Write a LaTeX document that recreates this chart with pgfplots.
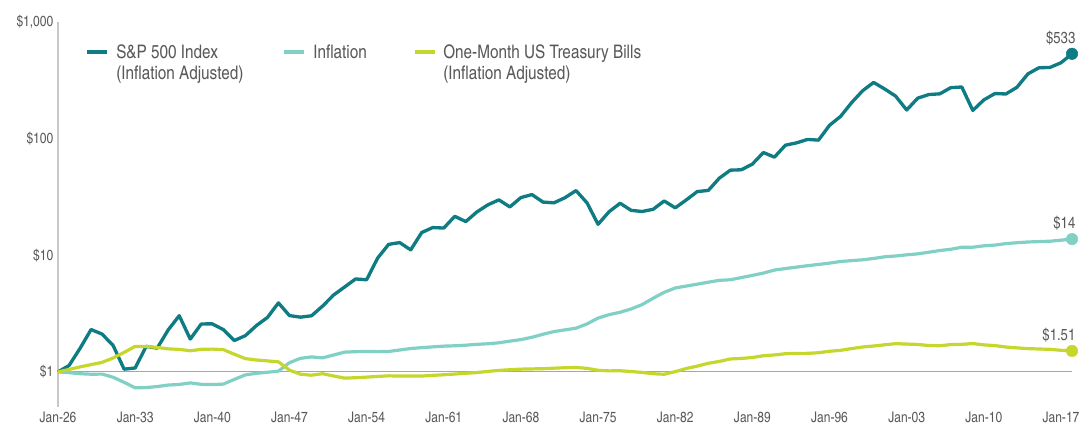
\documentclass[border=0pt]{standalone}
\usepackage{fontspec}
\setmainfont{TeX Gyre Heros Cn}
\usepackage{pgfplots}
\usepackage{pgfplotstable}
\pgfplotsset{compat=1.18}
\definecolor{spc}{HTML}{0E7C82}
\definecolor{inflc}{HTML}{80D0C6}
\definecolor{tbc}{HTML}{C5D62C}
\definecolor{txt}{HTML}{595959}
\definecolor{axisgray}{HTML}{C8C8C8}
\definecolor{onegray}{HTML}{A6A6A6}

\pgfplotstableread{
year sp infl tb
1926 1.0000 1.0000 1.0000
1927 1.1331 0.9851 1.0483
1928 1.5910 0.9646 1.1040
1929 2.3072 0.9552 1.1545
1930 2.1087 0.9571 1.2069
1931 1.6853 0.8994 1.3153
1932 1.0553 0.8138 1.4693
1933 1.0801 0.7300 1.6537
1934 1.6548 0.7337 1.6503
1935 1.5985 0.7486 1.6200
1936 2.2920 0.7710 1.5756
1937 3.0327 0.7803 1.5596
1938 1.9111 0.8045 1.5174
1939 2.5775 0.7821 1.5605
1940 2.5793 0.7784 1.5683
1941 2.3049 0.7859 1.5534
1942 1.8573 0.8623 1.4166
1943 2.0451 0.9424 1.2997
1944 2.4959 0.9722 1.2643
1945 2.9271 0.9927 1.2423
1946 3.9058 1.0150 1.2190
1947 3.0388 1.1993 1.0353
1948 2.9468 1.3074 0.9545
1949 3.0268 1.3428 0.9368
1950 3.6615 1.3186 0.9645
1951 4.5587 1.3950 0.9227
1952 5.3402 1.4769 0.8845
1953 6.2661 1.4899 0.8913
1954 6.1658 1.4991 0.9019
1955 9.4576 1.4916 0.9142
1956 12.3966 1.4971 0.9251
1957 12.8425 1.5399 0.9215
1958 11.1223 1.5864 0.9226
1959 15.6691 1.6143 0.9206
1960 17.2840 1.6385 0.9338
1961 17.1120 1.6628 0.9447
1962 21.5688 1.6739 0.9584
1963 19.4488 1.6943 0.9727
1964 23.4954 1.7223 0.9868
1965 27.0459 1.7428 1.0097
1966 29.8405 1.7763 1.0296
1967 25.9687 1.8358 1.0436
1968 31.2461 1.8916 1.0555
1969 33.1379 1.9809 1.0604
1970 28.5752 2.1019 1.0651
1971 28.1743 2.2173 1.0755
1972 31.1591 2.2918 1.0862
1973 35.8505 2.3700 1.0907
1974 28.1202 2.5785 1.0720
1975 18.4285 2.8931 1.0319
1976 23.6276 3.0959 1.0202
1977 27.9175 3.2448 1.0228
1978 24.2699 3.4645 1.0070
1979 23.7201 3.7773 0.9899
1980 24.7940 4.2801 0.9643
1981 29.2107 4.8108 0.9543
1982 25.4970 5.2409 1.0048
1983 29.8028 5.4437 1.0693
1984 35.1748 5.6506 1.1208
1985 35.9598 5.8738 1.1844
1986 45.7980 6.0952 1.2295
1987 53.6510 6.1641 1.2907
1988 54.0724 6.4359 1.3038
1989 60.4887 6.7204 1.3279
1990 76.0034 7.0329 1.3751
1991 69.3557 7.4626 1.3971
1992 87.8558 7.6910 1.4315
1993 91.9292 7.9140 1.4400
1994 98.4066 8.1316 1.4421
1995 97.1044 8.3488 1.4594
1996 130.146 8.5608 1.5030
1997 155.024 8.8450 1.5305
1998 203.285 8.9954 1.5841
1999 257.240 9.1402 1.6348
2000 303.239 9.3852 1.6666
2001 266.605 9.7033 1.7069
2002 231.322 9.8537 1.7452
2003 176.012 10.0882 1.7328
2004 222.313 10.2779 1.7182
2005 238.718 10.6130 1.6839
2006 242.157 10.9759 1.6767
2007 273.449 11.2547 1.7137
2008 277.154 11.7139 1.7232
2009 174.451 11.7244 1.7492
2010 214.769 12.0433 1.7046
2011 243.461 12.2240 1.6814
2012 241.451 12.5858 1.6337
2013 275.292 12.8048 1.6067
2014 359.074 12.9969 1.5833
2015 405.150 13.0957 1.5716
2016 407.764 13.1913 1.5605
2017 447.275 13.4644 1.5319
2018 533.650 13.7485 1.5122
}\data

\begin{document}
\begin{tikzpicture}[x=1pt,y=1pt]
\path[use as bounding box] (0,0) rectangle (818.25,320.25);
\begin{axis}[
  at={(43.5pt,15pt)}, anchor=south west,
  scale only axis, width=760.5pt, height=288.75pt,
  xmin=1926, xmax=2018,
  ymode=log, ymin=0.5, ymax=1000,
  axis x line=bottom, axis y line=left,
  axis line style={-},
  x axis line style={draw=none},
  y axis line style={axisgray, line width=1.1pt},
  major tick length=0pt, minor tick length=0pt,
  tick style={draw=none},
  xtick={1926,1933,1940,1947,1954,1961,1968,1975,1982,1989,1996,2003,2010,2017},
  xticklabels={Jan-26,Jan-33,Jan-40,Jan-47,Jan-54,Jan-61,Jan-68,Jan-75,Jan-82,Jan-89,Jan-96,Jan-03,Jan-10,Jan-17},
  ytick={1,10,100,1000},
  yticklabels={\$1,\$10,\$100,{\$1,000}},
  ticklabel style={font=\fontsize{11}{13}\selectfont, text=txt},
  clip=false,
]
\draw[onegray, line width=0.8pt] (axis cs:1926,1) -- (axis cs:2018,1);
\addplot[spc, line width=2.5pt, line join=round] table[x=year,y=sp]{\data};
\addplot[inflc, line width=2.4pt, line join=round] table[x=year,y=infl]{\data};
\addplot[tbc, line width=2.4pt, line join=round] table[x=year,y=tb]{\data};
\addplot[only marks, mark=*, mark size=4.3pt, spc,
  nodes near coords={\$533},
  nodes near coords style={anchor=south east, font=\fontsize{12}{14}\selectfont, text=txt, xshift=6pt, yshift=3pt}]
  coordinates {(2018,533.65)};
\addplot[only marks, mark=*, mark size=4.3pt, inflc,
  nodes near coords={\$14},
  nodes near coords style={anchor=south east, font=\fontsize{12}{14}\selectfont, text=txt, xshift=6pt, yshift=3pt}]
  coordinates {(2018,13.7485)};
\addplot[only marks, mark=*, mark size=4.3pt, tbc,
  nodes near coords={\$1.51},
  nodes near coords style={anchor=south east, font=\fontsize{12}{14}\selectfont, text=txt, xshift=6pt, yshift=3pt}]
  coordinates {(2018,1.5122)};
\end{axis}
% legend
\begin{scope}[every node/.style={anchor=base west, inner sep=0pt, text=txt, font=\fontsize{14}{16}\selectfont}]
\draw[spc, line width=2.4pt] (65.25,281.25) -- (80.25,281.25);
\node at (87,276.5) {S\&P 500 Index};
\node at (87,260.25) {(Inflation Adjusted)};
\draw[inflc, line width=2.4pt] (213,281.25) -- (228,281.25);
\node at (234.75,276.5) {Inflation};
\draw[tbc, line width=2.4pt] (311.25,281.25) -- (326.25,281.25);
\node at (332.25,276.5) {One-Month US Treasury Bills};
\node at (332.25,260.25) {(Inflation Adjusted)};
\end{scope}
\end{tikzpicture}
\end{document}
